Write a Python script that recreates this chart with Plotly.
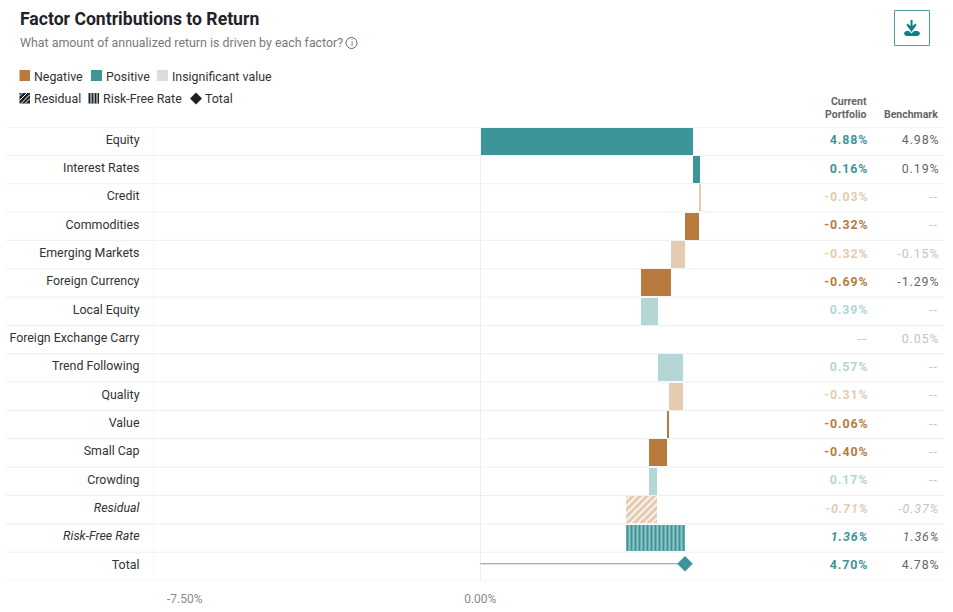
import numpy as np
import plotly.graph_objects as go

W, H = 953, 612

factors = ["Equity", "Interest Rates", "Credit", "Commodities", "Emerging Markets",
           "Foreign Currency", "Local Equity", "Foreign Exchange Carry", "Trend Following",
           "Quality", "Value", "Small Cap", "Crowding", "Residual", "Risk-Free Rate"]
contrib = [4.88, 0.16, -0.03, -0.32, -0.32, -0.69, 0.39, 0.0, 0.57, -0.31, -0.06, -0.40, 0.17, -0.71, 1.36]
significant = [1, 1, 0, 1, 0, 1, 0, 0, 0, 0, 1, 1, 0, 0, 1]
total_value = 4.70

current_labels = ["4.88%", "0.16%", "-0.03%", "-0.32%", "-0.32%", "-0.69%", "0.39%", "--", "0.57%",
                  "-0.31%", "-0.06%", "-0.40%", "0.17%", "-0.71%", "1.36%", "4.70%"]
benchmark_labels = ["4.98%", "0.19%", "--", "--", "-0.15%", "-1.29%", "--", "0.05%", "--",
                    "--", "--", "--", "--", "-0.37%", "1.36%", "4.78%"]
bench_significant = [1, 1, 0, 0, 0, 1, 0, 0, 0, 0, 0, 0, 0, 0, 1, 1]

TEAL = "#3d9599"
BROWN = "#b87b3d"
TEAL_LT = "#b4d6d7"
BROWN_LT = "#e4cbb2"
LINE = "#efefef"


def px(x):
    return x / W


def py(y):
    return 1 - y / H


def bar_color(v, sig):
    if v >= 0:
        return TEAL if sig else TEAL_LT
    return BROWN if sig else BROWN_LT


rows = factors + ["Total"]
ends = np.cumsum(contrib)
bases = ends - np.array(contrib)
colors = [bar_color(v, s) for v, s in zip(contrib, significant)]
plain = [i for i, f in enumerate(factors) if f not in ("Residual", "Risk-Free Rate")]
res_i = factors.index("Residual")
rfr_i = factors.index("Risk-Free Rate")

fig = go.Figure()
fig.add_trace(go.Bar(
    y=[factors[i] for i in plain], x=[contrib[i] for i in plain], base=[bases[i] for i in plain],
    orientation="h", width=0.95, marker=dict(color=[colors[i] for i in plain], line_width=0),
    showlegend=False, hoverinfo="skip"))
fig.add_trace(go.Bar(
    y=[factors[res_i]], x=[contrib[res_i]], base=[bases[res_i]], orientation="h", width=0.95,
    marker=dict(color="white", line_width=0,
                pattern=dict(shape="/", fgcolor=BROWN_LT, bgcolor="white", fgopacity=1, size=5, solidity=0.7)),
    showlegend=False, hoverinfo="skip"))
fig.add_trace(go.Bar(
    y=[factors[rfr_i]], x=[contrib[rfr_i]], base=[bases[rfr_i]], orientation="h", width=0.95,
    marker=dict(color=TEAL, line_width=0,
                pattern=dict(shape="|", fgcolor=TEAL, bgcolor="#d8eaea", fgopacity=1, size=4, solidity=0.72)),
    showlegend=False, hoverinfo="skip"))
# total: thin line ending in a diamond, on a hidden numeric twin of the category axis
# because it sits a little above the middle of its row
total_y = len(rows) - 1 - 0.09
fig.add_trace(go.Scatter(x=[0, total_value], y=[total_y, total_y], yaxis="y2", mode="lines",
                         line=dict(color="#5aa5a8", width=1), showlegend=False, hoverinfo="skip"))
fig.add_trace(go.Scatter(x=[total_value], y=[total_y], yaxis="y2", mode="markers",
                         marker=dict(symbol="diamond", size=12, color=TEAL), showlegend=False, hoverinfo="skip"))

annos = []
shapes = []


def text(x, y, s, size=12.4, color="#333333", anchor="left", yanchor="middle", bold=False):
    annos.append(dict(x=px(x), y=py(y), xref="paper", yref="paper", text=f"<b>{s}</b>" if bold else s,
                      showarrow=False, xanchor=anchor, yanchor=yanchor, align=anchor,
                      font=dict(size=size, color=color), borderpad=0, borderwidth=0))


def rect(x0, y0, x1, y1, fill, line=None, width=0):
    shapes.append(dict(type="rect", xref="paper", yref="paper", x0=px(x0), x1=px(x1), y0=py(y0), y1=py(y1),
                       fillcolor=fill, line=dict(color=line or fill, width=width), layer="above"))


def seg(x0, y0, x1, y1, color, width=1):
    shapes.append(dict(type="line", xref="paper", yref="paper", x0=px(x0), x1=px(x1), y0=py(y0), y1=py(y1),
                       line=dict(color=color, width=width), layer="above"))


def poly(points, fill):
    path = "M " + " L ".join(f"{px(x)} {py(y)}" for x, y in points) + " Z"
    shapes.append(dict(type="path", xref="paper", yref="paper", layer="above", fillcolor=fill, line_width=0, path=path))


# header
text(19.5, 19, "Factor Contributions to Return", size=17.6, color="#1f2328", bold=True)
text(19.5, 43, "What amount of annualized return is driven by each factor?", size=12.4, color="#7a7a7a")
shapes.append(dict(type="circle", xref="paper", yref="paper", x0=px(346), x1=px(357), y0=py(37.5), y1=py(48.5),
                   line=dict(color="#666666", width=1)))
text(351.5, 43, "i", size=8.5, color="#666666", anchor="center")

# legend
rect(19.5, 70, 30, 81, BROWN)
text(34, 76.5, "Negative")
rect(91, 70, 102, 81, TEAL)
text(105.5, 76.5, "Positive")
rect(157, 70, 168, 81, "#dcdcdc")
text(172, 76.5, "Insignificant value")
rect(19.5, 93, 30, 103.5, "#1f2328")
for d in (3, 7.5, 12, 16):
    seg(max(19.5, 19.5 + d - 10.5), min(103.5, 93 + d), min(30, 19.5 + d), max(93, 93 + d - 10.5), "white", 1)
text(34, 98.5, "Residual")
rect(88.5, 93, 99, 103.5, "#1f2328")
for x in (91, 94, 97):
    seg(x, 93, x, 103.5, "white", 1)
text(103, 98.5, "Risk-Free Rate")
poly([(190, 98.5), (196, 92.5), (202, 98.5), (196, 104.5)], "#1f2328")
text(205, 98.5, "Total")

# download button
shapes.append(dict(type="rect", xref="paper", yref="paper", x0=px(894.5), x1=px(929.5), y0=py(10.5), y1=py(45.5),
                   line=dict(color="#4f9fa3", width=1), fillcolor="white"))
poly([(906, 31), (909, 31), (911.5, 33.5), (914, 31), (918, 31), (920, 33), (920, 34), (918, 36), (906, 36), (904, 34), (904, 33)], "#0f7f85")
poly([(910.5, 20), (912.5, 20), (912.5, 26), (915.5, 23.5), (916.5, 25), (911.5, 32), (906.5, 25), (907.5, 23.5), (910.5, 26)], "#0f7f85")

# table header
text(866.5, 101.5, "<b>Current</b>", size=10.5, color="#666666", anchor="right")
text(866.5, 114, "<b>Portfolio</b>", size=10.5, color="#666666", anchor="right")
text(937.5, 114, "<b>Benchmark</b>", size=10.5, color="#666666", anchor="right")

# table cells, one per row on the category axis
for i, row in enumerate(rows):
    italic = row in ("Residual", "Risk-Free Rate")
    cur = current_labels[i]
    if cur == "--":
        c_col = "#c4c4c4"
    elif row == "Total":
        c_col = TEAL
    else:
        c_col = bar_color(contrib[i], significant[i])
    cur_txt = f"<b>{cur}</b>" if cur != "--" else cur
    ben = benchmark_labels[i]
    b_col = "#666666" if bench_significant[i] else "#c4c4c4"
    if italic:
        cur_txt = f"<i>{cur_txt}</i>"
        ben = f"<i>{ben}</i>"
    annos.append(dict(x=px(868), xref="paper", y=row, yref="y", text=cur_txt, showarrow=False, xanchor="right",
                      yshift=1.5, font=dict(size=12.4, color=c_col)))
    annos.append(dict(x=px(939), xref="paper", y=row, yref="y", text=ben, showarrow=False, xanchor="right",
                      yshift=1.5, font=dict(size=12.4, color=b_col)))

# row separators
for i in range(len(rows) + 1):
    shapes.append(dict(type="line", xref="paper", yref="y", x0=px(6), x1=px(944), y0=i - 0.5, y1=i - 0.5,
                       line=dict(color=LINE, width=1), layer="below"))
# left edge grid line, plotly leaves it out at the end of the range
shapes.append(dict(type="line", xref="x", yref="paper", x0=-7.5, x1=-7.5, y0=py(580.5), y1=py(127),
                   line=dict(color=LINE, width=1), layer="below"))

text(185, 598.5, "-7.50%", size=12, color="#8a8a8a", anchor="center")

fig.update_layout(
    width=W, height=H, margin=dict(l=0, r=0, t=0, b=0), plot_bgcolor="white", paper_bgcolor="white",
    font=dict(family="Roboto, sans-serif", size=12.4, color="#333333"),
    annotations=annos, shapes=shapes, bargap=0, barmode="overlay",
    xaxis=dict(domain=[px(153.5), px(807)], range=[-7.5, 7.5], tickvals=[-7.5, 0], ticktext=["", "0.00%"],
               showgrid=True, gridcolor=LINE, gridwidth=1, zeroline=False, showline=False, ticks="",
               ticklabelstandoff=9, tickfont=dict(size=12, color="#8a8a8a")),
    yaxis=dict(domain=[py(580.5), py(127)], type="category", categoryorder="array", categoryarray=rows,
               range=[len(rows) - 0.5, -0.5], tickvals=rows,
               ticktext=[f"<i>{r}</i>" if r in ("Residual", "Risk-Free Rate") else r for r in rows],
               showgrid=False, zeroline=False, showline=False, ticks="", ticklabelstandoff=13,
               ticklabelshift=2, tickfont=dict(size=12.4, color="#333333")),
    yaxis2=dict(overlaying="y", type="linear", range=[len(rows) - 0.5, -0.5], visible=False),
)

# page margin off, tracked-out numbers in the table, then redraw so anchors get re-measured
post = """
document.body.style.margin = '0';
var st = document.createElement('style');
st.textContent = '.annotation-text[data-unformatted*="%"]:not([data-unformatted^="-7.50"]), .annotation-text[data-unformatted*="--"] {letter-spacing: 0.9px;}';
document.head.appendChild(st);
var gd = document.getElementsByClassName('plotly-graph-div')[0];
Plotly.redraw(gd);
"""
fig.write_html("out.html", post_script=post, config={"displayModeBar": False})
